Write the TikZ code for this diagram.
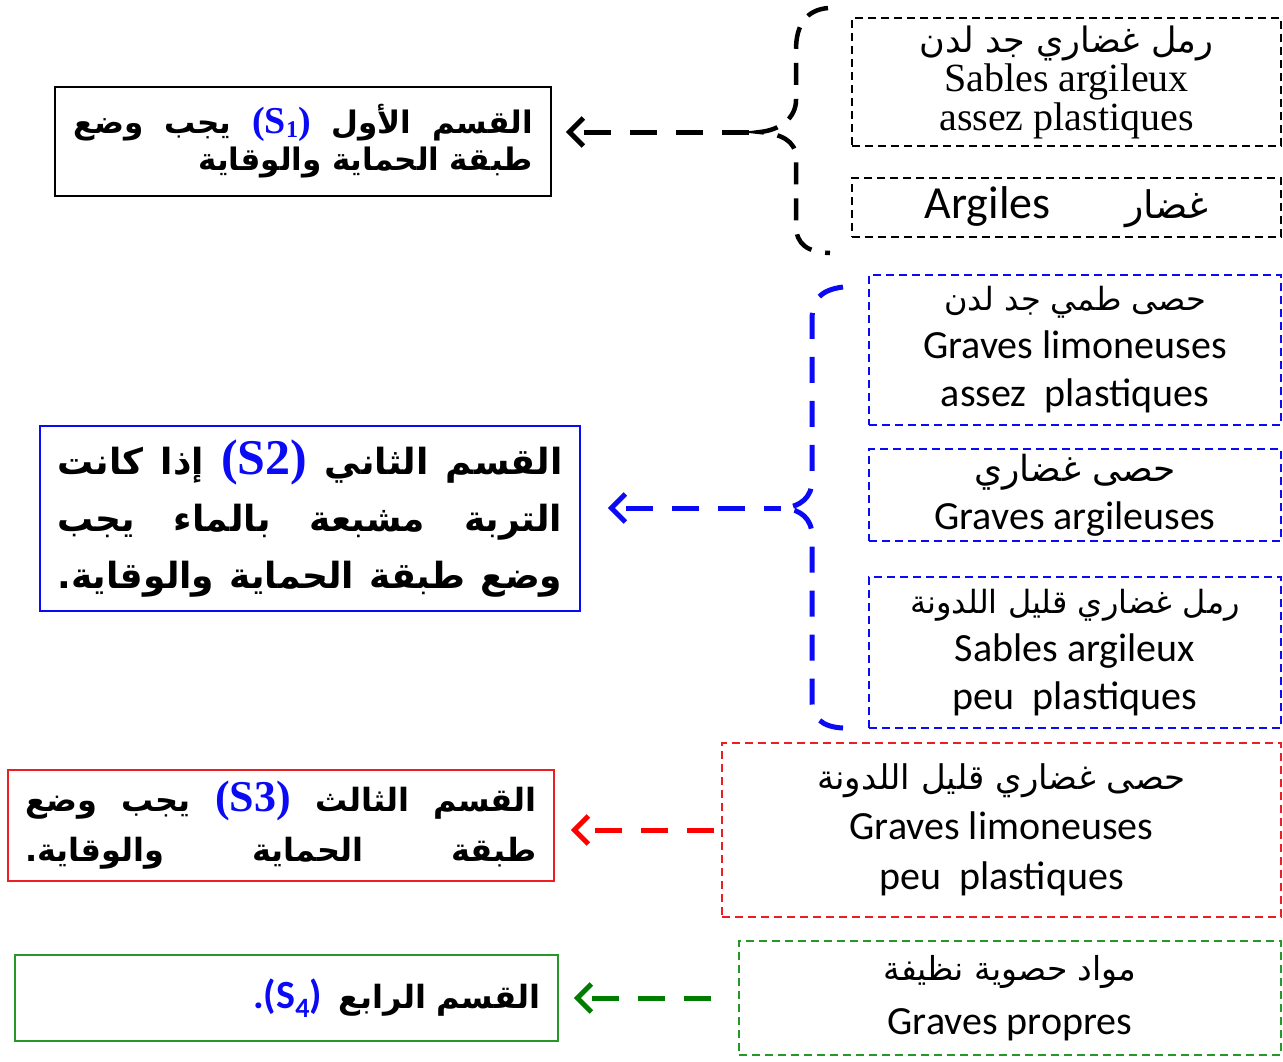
\documentclass[tikz,border=0pt]{standalone}
\usepackage{fontspec}
\usetikzlibrary{arrows.meta}
\TeXXeTstate=1
\newfontfamily\arabicfont[Script=Arabic]{DejaVu Sans}
\newfontfamily\calibfont{Carlito}
\newfontfamily\timesfont{Liberation Serif}
\definecolor{sblue}{RGB}{10,10,245}
\definecolor{sred}{RGB}{235,30,35}
\definecolor{sgreen}{RGB}{40,150,40}
\definecolor{dgreen}{RGB}{0,125,0}
\def\arsz{32}
\newcommand{\ar}[1]{{\arabicfont\fontsize{\arsz}{\arsz}\selectfont\beginR #1\endR}}
\newcommand{\arb}[1]{{\arabicfont\bfseries\beginR #1\endR}}
\newcommand{\slab}[2]{{\color{sblue}\timesfont\bfseries\fontsize{#1}{#1}\selectfont(#2)}}
\newcommand{\slabf}[2]{{\color{sblue}\calibfont\bfseries\fontsize{#1}{#1}\selectfont.(#2)}}
\begin{document}
\begin{tikzpicture}[x=1pt,y=-1pt,
		secbox/.style={draw, line width=1.8pt, inner sep=0pt, align=right},
		soilbox/.style={draw, dash pattern=on 8pt off 5pt, line width=1.5pt, inner sep=0pt, align=center,
				font=\calibfont\fontsize{40}{48}\selectfont},
		leadarrow/.style={line width=5pt, dash pattern=on 27pt off 19pt, dash phase=34pt,
				{Straight Barb[length=14pt,width=28pt]}-},
		curly/.style={line width=4.5pt, dash pattern=on 22pt off 14pt},
	]
	\useasboundingbox (0,0) rectangle (1283,1061);

	\node[secbox, minimum width=496pt, minimum height=109pt, text width=460pt,
		font=\fontsize{31}{37}\selectfont] (s1) at (303,141.5)
	{\arb{يجب\hfill وضع}\hfill\slab{38}{S\raisebox{-4pt}{\fontsize{24}{24}\selectfont 1}}\hfill\arb{القسم\hfill الأول}\\
		\arb{طبقة الحماية والوقاية}};
	\node[secbox, draw=sblue, minimum width=540pt, minimum height=185pt, text width=505pt,
		font=\fontsize{36}{57}\selectfont] (s2) at (310,518.5)
	{\arb{إذا\hfill كانت}\hfill\slab{50}{S2}\hfill\arb{القسم\hfill الثاني}\\
		\arb{التربة\hfill مشبعة\hfill بالماء\hfill يجب}\\
		\arb{وضع\hfill طبقة\hfill الحماية\hfill والوقاية\hbox{.}}};
	\node[secbox, draw=sred, minimum width=546pt, minimum height=111pt, text width=512pt,
		font=\fontsize{32}{50}\selectfont] (s3) at (281,825.5)
	{\arb{يجب\hfill وضع}\hfill\slab{44}{S3}\hfill\arb{القسم\hfill الثالث}\\
		\arb{طبقة\hfill الحماية\hfill والوقاية\hbox{.}}};
	\node[secbox, draw=sgreen, minimum width=543pt, minimum height=86pt, text width=508pt,
		font=\fontsize{32}{36}\selectfont] (s4) at (286.5,998)
	{\slabf{40}{S\textsubscript{4}}\hspace{16pt}\arb{القسم الرابع}};

	\node[soilbox, minimum width=429pt, minimum height=128pt,
		font=\timesfont\fontsize{40}{39}\selectfont\def\arsz{35}] (k1) at (1066.5,82)
	{\ar{رمل غضاري جد لدن}\\ Sables argileux\\ assez plastiques};
	\node[soilbox, minimum width=429pt, minimum height=59pt,
		font=\calibfont\fontsize{46}{48}\selectfont\def\arsz{38}] (k2) at (1066.5,207.5)
	{Argiles\hspace{75pt}\ar{غضار}};

	\node[soilbox, draw=sblue, minimum width=412pt, minimum height=150pt] (b1) at (1075,350)
	{\ar{حصى طمي جد لدن}\\ Graves limoneuses\\ assez\ \ plastiques};
	\node[soilbox, draw=sblue, minimum width=412pt, minimum height=92pt,
		font=\calibfont\fontsize{40}{48}\selectfont\def\arsz{36}] (b2) at (1075,495)
	{\ar{حصى غضاري}\\ Graves argileuses};
	\node[soilbox, draw=sblue, minimum width=412pt, minimum height=151pt] (b3) at (1075,652.5)
	{\ar{رمل غضاري قليل اللدونة}\\ Sables argileux\\ peu\ \ plastiques};

	\node[soilbox, draw=sred, minimum width=559pt, minimum height=174pt,
		font=\calibfont\fontsize{40}{50}\selectfont\def\arsz{34}] (r3) at (1001.5,830)
	{\ar{حصى غضاري قليل اللدونة}\\ Graves limoneuses\\ peu\ \ plastiques};
	\node[soilbox, draw=sgreen, minimum width=542pt, minimum height=114pt,
		font=\calibfont\fontsize{40}{54}\selectfont\def\arsz{33}] (g4) at (1010,998)
	{\ar{مواد حصوية نظيفة}\\ Graves propres};

	\coordinate (ktip) at (760,132);
	\coordinate (btip) at (785,508);
	\draw[curly] (828,8) .. controls (806,10) and (796,25) .. (796,50) -- (796,100)
	.. controls (796,118) and (780,130) .. (ktip) .. controls (780,134) and (796,140) .. (796,158)
	-- (796,225) .. controls (796,245) and (808,252) .. (830,253);
	\draw[curly, sblue, line width=5pt, dash pattern=on 26pt off 18pt] (843,287) .. controls (820,290) and (812,300) .. (812,320)
	-- (812,480) .. controls (812,498) and (800,506) .. (btip) .. controls (800,510) and (812,518) .. (812,536)
	-- (812,700) .. controls (812,718) and (822,727) .. (843,728);

	\draw[leadarrow, shorten <=14pt, shorten >=8pt] (s1.east |- ktip) -- (ktip);
	\draw[leadarrow, sblue, shorten <=27pt, shorten >=4pt] (s2.east |- btip) -- (btip);
	\draw[leadarrow, red, shorten <=16pt, dash phase=28pt] (s3.east |- r3.west) -- (r3.west);
	\draw[leadarrow, dgreen, shorten <=15pt, shorten >=12pt] (s4.east |- g4.west) -- (g4.west);
\end{tikzpicture}
\end{document}
